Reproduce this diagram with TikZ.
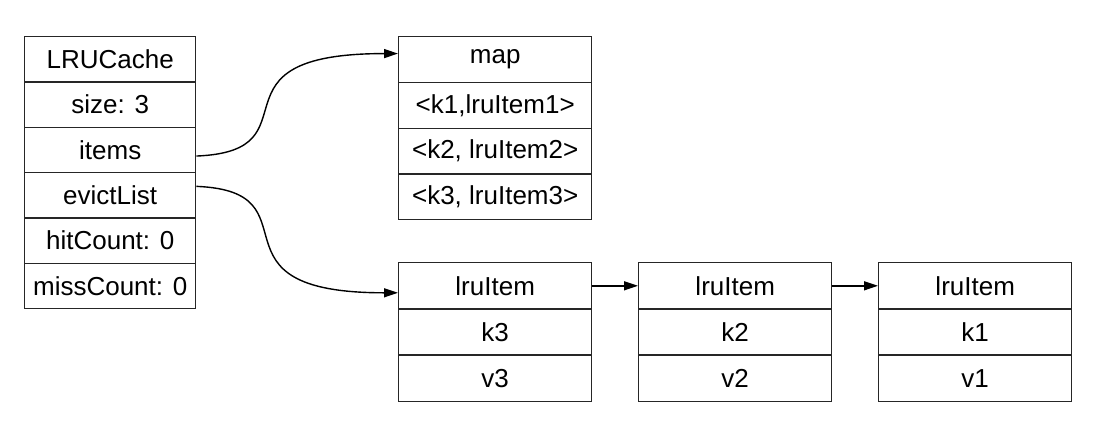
\documentclass[tikz,border=0pt]{standalone}
\usepackage{fontspec}
\setmainfont{Liberation Sans}
\usetikzlibrary{arrows.meta}
\begin{document}
\begin{tikzpicture}[x=1pt,y=-1pt,
  cell/.style={draw=black!85,line width=1.4pt,inner sep=0pt,anchor=north west,
    font=\fontsize{26}{30}\selectfont},
  lc/.style={cell,minimum width=171pt,minimum height=45.33pt},
  mc/.style={cell,minimum width=193pt,minimum height=45.75pt},
  ic/.style={cell,minimum width=193pt,minimum height=46.2pt},
  link/.style={line width=1.4pt,-{Triangle[length=14pt,width=9pt]}}]
\useasboundingbox (0,0) rectangle (1108,432);
% LRUCache
\node[lc] (lru) at (24,36) {LRUCache};
\node[lc] (size) at (24,81.33) {size: 3};
\node[lc] (items) at (24,126.67) {items};
\node[lc] (evict) at (24,172) {evictList};
\node[lc] (hit) at (24,217.33) {hitCount: 0};
\node[lc] (miss) at (24,262.67) {missCount: 0};
% map
\node[mc] (map) at (398,36) {map};
\node[mc] (m1) at (398,81.75) {<k1,lruItem1>};
\node[mc] (m2) at (398,127.5) {<k2, lruItem2>};
\node[mc] (m3) at (398,173.25) {<k3, lruItem3>};
% lru items
\node[ic] (a) at (398,262) {lruItem};
\node[ic] (ak) at (398,308.2) {k3};
\node[ic] (av) at (398,354.4) {v3};
\node[ic] (b) at (638,262) {lruItem};
\node[ic] (bk) at (638,308.2) {k2};
\node[ic] (bv) at (638,354.4) {v2};
\node[ic] (c) at (878,262) {lruItem};
\node[ic] (ck) at (878,308.2) {k1};
\node[ic] (cv) at (878,354.4) {v1};
% connectors
\draw[link] ([yshift=-6pt]items.east) .. controls +(125,-5) and +(-200,0) .. ([yshift=6pt]map.west);
\draw[link] ([yshift=9pt]evict.east) .. controls +(125,5) and +(-200,0) .. ([yshift=-7pt]a.west);
\draw[link] (a.east) -- (b.west);
\draw[link] (b.east) -- (c.west);
\end{tikzpicture}
\end{document}
